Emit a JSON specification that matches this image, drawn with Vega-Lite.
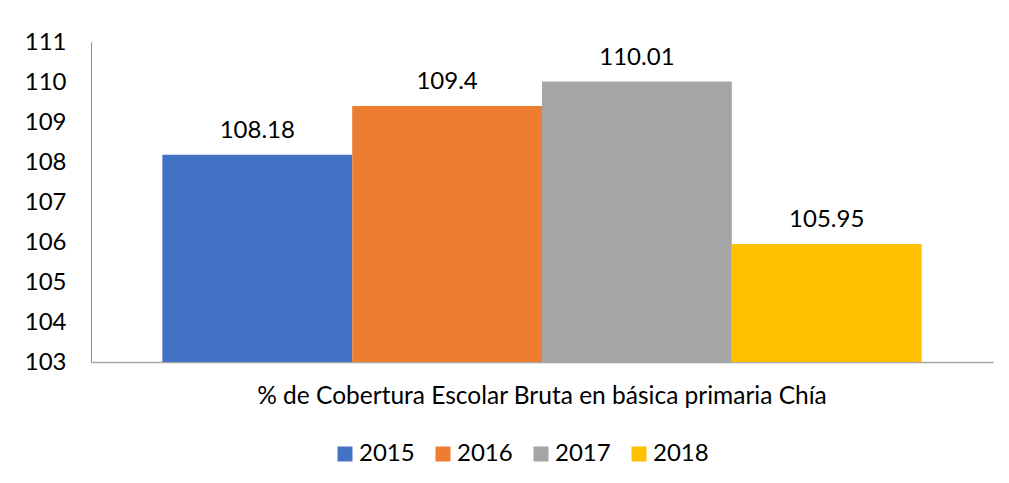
{
  "$schema": "https://vega.github.io/schema/vega-lite/v6.json",
  "width": 902,
  "height": 320,
  "autosize": {"type": "none"},
  "padding": {"left": 91, "top": 42, "right": 16, "bottom": 121},
  "background": "white",
  "config": {
    "view": {"stroke": null},
    "font": "Lato",
    "axis": {"labelFont": "Lato", "titleFont": "Lato"},
    "legend": {"labelFont": "Lato"}
  },
  "data": {
    "values": [
      {"indicador": "% de Cobertura Escolar Bruta en básica primaria Chía", "anio": "2015", "valor": 108.18, "etiqueta": "108.18"},
      {"indicador": "% de Cobertura Escolar Bruta en básica primaria Chía", "anio": "2016", "valor": 109.4, "etiqueta": "109.4"},
      {"indicador": "% de Cobertura Escolar Bruta en básica primaria Chía", "anio": "2017", "valor": 110.01, "etiqueta": "110.01"},
      {"indicador": "% de Cobertura Escolar Bruta en básica primaria Chía", "anio": "2018", "valor": 105.95, "etiqueta": "105.95"}
    ]
  },
  "encoding": {
    "x": {
      "field": "indicador",
      "type": "nominal",
      "scale": {"paddingInner": 0, "paddingOuter": 0.094},
      "axis": {
        "title": null,
        "labelAngle": 0,
        "labelFontSize": 24.5,
        "labelColor": "#000000",
        "labelPadding": 22,
        "labelLimit": 1000,
        "ticks": false,
        "domainColor": "#a6a6a6",
        "domainWidth": 1.5
      }
    },
    "xOffset": {"field": "anio", "type": "nominal", "scale": {"paddingInner": 0, "paddingOuter": 0}},
    "y": {
      "field": "valor",
      "type": "quantitative",
      "scale": {"domain": [103, 111], "zero": false, "nice": false},
      "axis": {
        "title": null,
        "values": [103, 104, 105, 106, 107, 108, 109, 110, 111],
        "grid": false,
        "ticks": false,
        "labelFontSize": 24,
        "labelColor": "#000000",
        "labelPadding": 25,
        "domainColor": "#8c8c8c",
        "domainWidth": 1
      }
    }
  },
  "layer": [
    {
      "mark": {"type": "bar", "clip": true},
      "encoding": {
        "y2": {"datum": 103},
        "color": {
          "field": "anio",
          "type": "nominal",
          "scale": {"domain": ["2015", "2016", "2017", "2018"], "range": ["#4472C4", "#ED7D31", "#A5A5A5", "#FFC000"]},
          "legend": {
            "title": null,
            "orient": "none",
            "legendX": 242,
            "legendY": 400,
            "direction": "horizontal",
            "symbolType": "square",
            "symbolSize": 225,
            "symbolStrokeWidth": 0,
            "labelFontSize": 24,
            "labelColor": "#000000",
            "labelOffset": 2,
            "columnPadding": 16
          }
        }
      }
    },
    {
      "mark": {"type": "text", "fontSize": 24, "color": "#000000", "baseline": "alphabetic", "dy": -17},
      "encoding": {
        "text": {"field": "etiqueta", "type": "nominal"}
      }
    }
  ]
}
